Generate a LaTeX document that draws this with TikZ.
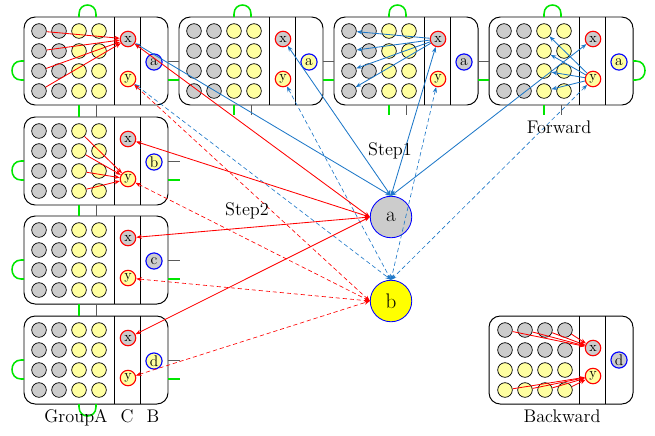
\documentclass[tikz,border=0pt]{standalone}
\usepackage{tikz}
\usetikzlibrary{arrows.meta, calc}
\usepackage{xcolor}
\definecolor{CB}{RGB}{30,120,200}
\definecolor{CR}{RGB}{255,0,0}
\definecolor{LGy}{RGB}{204,204,204}
\definecolor{LY}{RGB}{255,255,160}
\definecolor{YY}{RGB}{255,255,0}
\definecolor{GN}{RGB}{0,230,0}
\definecolor{DG}{RGB}{90,90,90}

\tikzset{
  dot/.style={circle, draw=black, line width=0.5pt, minimum size=10.4pt, inner sep=0pt},
  gdot/.style={dot, fill=LGy},
  ydot/.style={dot, fill=LY},
  xnode/.style={circle, draw=CR, line width=0.8pt, minimum size=11pt, inner sep=0pt,
    font=\fontsize{10}{10}\selectfont},
  bnode/.style={circle, draw=blue, line width=0.8pt, minimum size=11.5pt, inner sep=0pt,
    font=\fontsize{11}{11}\selectfont},
  bignode/.style={circle, draw=blue, line width=0.6pt, minimum size=29.5pt, inner sep=0pt,
    font=\fontsize{15}{15}\selectfont},
  blockbox/.style={draw=black, line width=0.7pt, rounded corners=8pt},
  divline/.style={draw=black, line width=0.7pt},
  grn/.style={draw=GN, line width=1.1pt},
  gry/.style={draw=DG, line width=0.7pt},
  tip/.style={-{Stealth[length=4pt,width=3pt]}},
  bitip/.style={{Stealth[length=4pt,width=3pt]}-{Stealth[length=4pt,width=3pt]}},
  redarr/.style={draw=CR, line width=0.6pt, tip},
  bluarr/.style={draw=CB, line width=0.6pt, tip},
  redbi/.style={draw=CR, line width=0.6pt, bitip},
  blubi/.style={draw=CB, line width=0.6pt, bitip},
  dsh/.style={line width=0.45pt, dash pattern=on 3pt off 2pt},
  lbl/.style={font=\fontsize{13}{15}\selectfont, anchor=base, inner sep=0pt}
}

% block: name, left, top, B label, B fill
\newcommand{\gblock}[5]{%
  \draw[blockbox] (#2,#3) rectangle ({#2+144},{#3+88});
  \draw[divline] ({#2+90},#3) -- ({#2+90},{#3+88});
  \draw[divline] ({#2+116},#3) -- ({#2+116},{#3+88});
  \foreach \row in {1,...,4}{
    \foreach \col/\sty in {1/gdot,2/gdot,3/ydot,4/ydot}
      \node[\sty] (#1-\row\col) at ({#2+15+20*(\col-1)},{#3+14+20*(\row-1)}) {};
  }
  \node[xnode, fill=LGy] (#1-x) at ({#2+104},{#3+22}) {x};
  \node[xnode, fill=LY] (#1-y) at ({#2+104},{#3+62}) {y};
  \node[bnode, fill=#5] (#1-b) at ({#2+130},{#3+45}) {#4};
  \coordinate (#1-kE) at ({#2+144},{#3+44});
  \coordinate (#1-gE) at ({#2+144},{#3+63});
  \coordinate (#1-kW) at (#2,{#3+44});
  \coordinate (#1-gW) at (#2,{#3+63});
  \coordinate (#1-gN) at ({#2+55},#3);
  \coordinate (#1-kN) at ({#2+72},#3);
  \coordinate (#1-gS) at ({#2+55},{#3+88});
  \coordinate (#1-kS) at ({#2+72},{#3+88});
}

\begin{document}
\begin{tikzpicture}[x=0.025cm, y=-0.025cm]
\useasboundingbox (0,0) rectangle (655,435);

% Blocks
\gblock{b1}{24}{17}{a}{LGy}
\gblock{b2}{179}{17}{a}{LY}
\gblock{b3}{334}{17}{a}{LGy}
\gblock{b4}{489}{17}{a}{LY}
\gblock{b5}{24}{117}{b}{LY}
\gblock{b6}{24}{216}{c}{LGy}
\gblock{b7}{24}{316}{d}{LY}

% Backward block
\draw[blockbox] (489,316) rectangle (633,404);
\draw[divline] (579,316) -- (579,404);
\draw[divline] (605,316) -- (605,404);
\foreach \row/\sty in {1/gdot,2/gdot,3/ydot,4/ydot}
  \foreach \col in {1,...,4}
    \node[\sty] (bk-\row\col) at ({505+20*(\col-1)},{330+20*(\row-1)}) {};
\node[xnode, fill=LGy] (bk-x) at (593,348) {x};
\node[xnode, fill=LY] (bk-y) at (593,376) {y};
\node[bnode, fill=LGy] (bk-b) at (619,360) {d};

% Links between blocks
\draw[gry] (b1-kE) -- (b2-kW);
\draw[grn] (b1-gE) -- (b2-gW);
\draw[gry] (b2-kE) -- (b3-kW);
\draw[grn] (b2-gE) -- (b3-gW);
\draw[gry] (b3-kE) -- (b4-kW);
\draw[grn] (b3-gE) -- (b4-gW);
\draw[grn] (b1-gS) -- (b5-gN);
\draw[gry] (b1-kS) -- (b5-kN);
\draw[grn] (b5-gS) -- (b6-gN);
\draw[gry] (b5-kS) -- (b6-kN);
\draw[grn] (b6-gS) -- (b7-gN);
\draw[gry] (b6-kS) -- (b7-kN);

% Open ends
\foreach \b in {b2,b3,b4}{
  \draw[grn] (\b-gS) -- ++(0,10);
  \draw[gry] (\b-kS) -- ++(0,10);
}
\foreach \b in {b5,b6,b7}{
  \draw[gry] (\b-kE) -- ++(12,0);
  \draw[grn] (\b-gE) -- ++(12,0);
}

% Loops
\foreach \b in {b1,b2,b3,b4}
  \draw[grn] (\b-gN) -- ++(0,-3) .. controls +(0,-12) and +(0,-12) .. ($(\b-kN)+(0,-3)$) -- (\b-kN);
\foreach \b in {b1,b5,b6,b7}
  \draw[grn] (\b-kW) -- ++(-3,0) .. controls +(-12,0) and +(-12,0) .. ($(\b-gW)+(-3,0)$) -- (\b-gW);
\draw[grn] (b4-kE) -- ++(3,0) .. controls +(12,0) and +(12,0) .. ($(b4-gE)+(3,0)$) -- (b4-gE);
\draw[grn] (b7-gS) -- ++(0,3) .. controls +(0,12) and +(0,12) .. ($(b7-kS)+(0,3)$) -- (b7-kS);

% Targets
\node[bignode, fill=LGy] (ha) at (391,217) {a};
\node[bignode, fill=YY] (hb) at (391,301) {b};

% Arrows inside blocks
\foreach \row in {1,...,4}{
  \draw[redarr] (b1-\row1) -- (b1-x);
  \draw[redarr] (b5-\row3) -- (b5-y);
  \draw[bluarr] (b3-x) -- (b3-\row1);
  \draw[bluarr] (b4-y) -- (b4-\row3);
}
\foreach \col in {1,...,4}{
  \draw[redarr] (bk-1\col) -- (bk-x);
  \draw[redarr] (bk-4\col) -- (bk-y);
}

% Step1 / Step2
\foreach \b in {b1,b2,b3,b4}{
  \draw[blubi] (\b-x) -- (ha.north);
  \draw[blubi, dsh] (\b-y) -- (hb.north);
}
\foreach \b in {b1,b5,b6,b7}{
  \draw[redbi] (\b-x) -- (ha.west);
  \draw[redbi, dsh] (\b-y) -- (hb.west);
}

% Labels
\node[lbl] (tstep1) at (390,155) {Step1};
\node[lbl] (tstep2) at (247,215) {Step2};
\node[lbl] (tfwd) at (559,133) {Forward};
\node[lbl] (tbwd) at (562,422) {Backward};
\node[lbl] (tgrp) at (76,422) {GroupA};
\node[lbl] (tc) at (127,422) {C};
\node[lbl] (tb) at (153,422) {B};
\end{tikzpicture}
\end{document}
